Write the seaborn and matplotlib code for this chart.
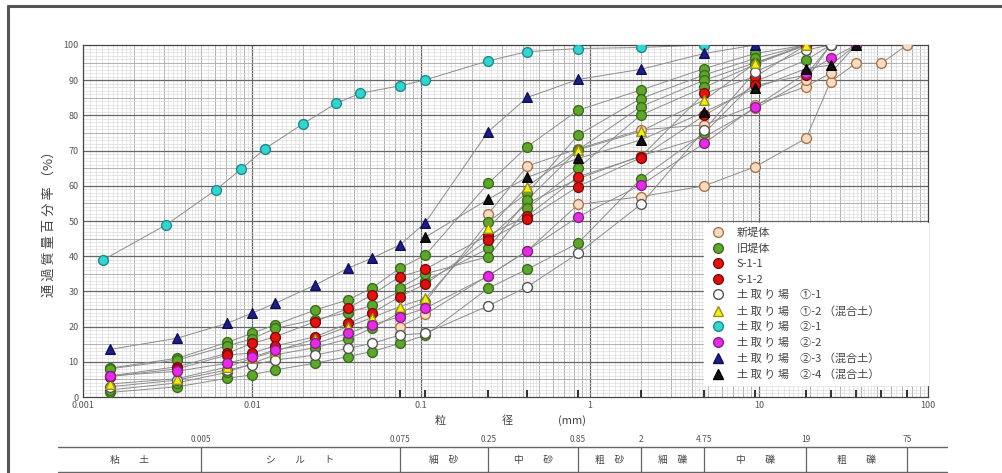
import numpy as np
import pandas as pd
import matplotlib
matplotlib.use("Agg")
import matplotlib.pyplot as plt
import seaborn as sns
from matplotlib.lines import Line2D
from matplotlib.ticker import FixedLocator, NullFormatter, FixedFormatter

# ---------------- data ----------------
# particle diameters (mm)
hydro_d = [0.00144, 0.0036, 0.0071, 0.010, 0.0137, 0.0236, 0.037, 0.051]
hydro_d_fine = [0.00131, 0.0031, 0.0061, 0.0086, 0.0119, 0.0200, 0.0314, 0.0437]
sieve_d = [0.075, 0.106, 0.25, 0.425, 0.85, 2, 4.75, 9.5, 19, 26.5, 37.5, 53, 75]
N = None

# 新堤体
shin_1_hyd = []
shin_1_sv = [20.0, 23.5, 34.5, 41.5, 54.7, 56.9, 60.0, 65.4, 73.5, 89.6, 94.8, 94.8, 100]
shin_2_hyd = []
shin_2_sv = [N, N, 52.0, 65.6, 70.5, 75.9, 77.3, 83.0, 88.2, 92.0, 100]
shin_3_hyd = []
shin_3_sv = [N, N, 45.0, 55.0, 62.0, 68.5, 73.9, 82.0, 90.1, 100]
# 旧堤体
kyu_1_hyd = [8.2, 11.0, 15.5, 18.1, 20.5, 24.7, 27.6, 30.9]
kyu_1_sv = [36.6, 40.3, 60.7, 71.1, 81.5, 87.2, 93.3, 97.6, 100]
kyu_2_hyd = [1.3, 2.9, 5.3, 6.3, 7.7, 9.6, 11.5, 12.9]
kyu_2_sv = [15.2, 17.5, 30.9, 36.3, 43.7, 62.0, 75.0, 89.6, 95.7, 100]
kyu_3_hyd = [2.0, 4.0, 7.0, 9.5, 12.0, 14.0, 16.5, 19.5]
kyu_3_sv = [24.0, 27.0, 49.8, 57.9, 74.4, 84.8, 91.5, 96.2, 100]
kyu_4_hyd = [8.0, 10.5, 14.5, 16.5, 19.5, 22.0, 24.0, 26.0]
kyu_4_sv = [30.0, 33.0, 42.2, 56.0, 70.2, 82.5, 90.0, 95.0, 100]
kyu_5_hyd = []
kyu_5_sv = [31.0, 35.0, 39.9, 53.6, 65.0, 80.1, 88.0, 94.5, 100]
# S-1-1, S-1-2
s11_hyd = [6.0, 8.6, 12.4, 15.2, 17.1, 21.4, 25.2, 29.0]
s11_sv = [34.2, 36.3, 46.0, 51.4, 62.6, 68.3, 86.3, 91.0, 100]
s12_hyd = [5.8, 8.0, 11.9, 12.5, 14.5, 17.1, 20.9, 23.8]
s12_sv = [28.5, 32.1, 44.6, 50.5, 59.8, 68.0, 80.0, 88.5, 91.5, 100]
# 土取り場
to11_hyd = [2.9, 4.8, 7.7, 9.1, 10.5, 11.9, 13.8, 15.2]
to11_sv = [17.6, 18.1, 25.9, 31.3, 40.8, 54.7, 75.9, 92.4, 98.6, 100]
to12_hyd = [3.7, 5.2, 8.5, 11.0, 13.0, 16.5, 20.0, 22.5]
to12_sv = [25.7, 28.0, 47.9, 59.8, 70.2, 75.5, 84.4, 94.8, 100]
to21_hyd = [38.9, 48.9, 58.8, 64.7, 70.5, 77.6, 83.4, 86.3]
to21_sv = [88.4, 90.1, 95.5, 98.1, 99.0, 99.3, 100]
to22_hyd = [6.0, 7.3, 9.6, 11.3, 13.4, 15.2, 18.1, 20.5]
to22_sv = [22.8, 25.2, 34.4, 41.6, 51.2, 60.2, 72.1, 82.5, 92.0, 96.2, 100]
to23_hyd = [13.5, 16.7, 20.9, 23.8, 26.6, 31.8, 36.6, 39.4]
to23_sv = [43.2, 49.5, 75.4, 85.1, 90.2, 93.1, 97.6, 100]
to24_hyd = []
to24_sv = [N, 45.4, 56.2, 62.4, 67.8, 73.0, 81.0, 87.7, 93.3, 94.3, 100]

categories = ["新堤体", "旧堤体", "S-1-1", "S-1-2", "土 取 り 場　①-1", "土 取 り 場　①-2 （混合土）",
              "土 取 り 場　②-1", "土 取 り 場　②-2", "土 取 り 場　②-3 （混合土）", "土 取 り 場　②-4 （混合土）"]

series = [
    ("新堤体-1", categories[0], hydro_d, shin_1_hyd, shin_1_sv),
    ("新堤体-2", categories[0], hydro_d, shin_2_hyd, shin_2_sv),
    ("新堤体-3", categories[0], hydro_d, shin_3_hyd, shin_3_sv),
    ("旧堤体-1", categories[1], hydro_d, kyu_1_hyd, kyu_1_sv),
    ("旧堤体-2", categories[1], hydro_d, kyu_2_hyd, kyu_2_sv),
    ("旧堤体-3", categories[1], hydro_d, kyu_3_hyd, kyu_3_sv),
    ("旧堤体-4", categories[1], hydro_d, kyu_4_hyd, kyu_4_sv),
    ("旧堤体-5", categories[1], hydro_d, kyu_5_hyd, kyu_5_sv),
    ("S-1-1", categories[2], hydro_d, s11_hyd, s11_sv),
    ("S-1-2", categories[3], hydro_d, s12_hyd, s12_sv),
    ("①-1", categories[4], hydro_d, to11_hyd, to11_sv),
    ("①-2", categories[5], hydro_d, to12_hyd, to12_sv),
    ("②-1", categories[6], hydro_d_fine, to21_hyd, to21_sv),
    ("②-2", categories[7], hydro_d, to22_hyd, to22_sv),
    ("②-3", categories[8], hydro_d, to23_hyd, to23_sv),
    ("②-4", categories[9], hydro_d, to24_hyd, to24_sv),
]

rows = []
for name, cat, hd, hv, sv in series:
    for d, v in list(zip(hd, hv)) + list(zip(sieve_d, sv)):
        if v is not None:
            rows.append({"sample": name, "cat": cat, "d": d, "pct": v})
df = pd.DataFrame(rows)

styles = {
    categories[0]: dict(marker="o", fc="#f7dcc3", ec="#a8754e"),
    categories[1]: dict(marker="o", fc="#5ea62e", ec="#3d6b1c"),
    categories[2]: dict(marker="o", fc="#e3140f", ec="#7a0c0c"),
    categories[3]: dict(marker="o", fc="#d81010", ec="#7a0c0c"),
    categories[4]: dict(marker="o", fc="#ffffff", ec="#555555"),
    categories[5]: dict(marker="^", fc="#f2ee1a", ec="#9a8f1a"),
    categories[6]: dict(marker="o", fc="#35d4d0", ec="#1c8c8a"),
    categories[7]: dict(marker="o", fc="#e22ee0", ec="#8a1f8a"),
    categories[8]: dict(marker="^", fc="#1c1c8a", ec="#101050"),
    categories[9]: dict(marker="^", fc="#111111", ec="#000000"),
}

class_bounds = [0.005, 0.075, 0.25, 0.85, 2, 4.75, 19, 75]
class_bound_labels = ["0.005", "0.075", "0.25", "0.85", "2", "4.75", "19", "75"]
class_names = ["粘　　土", "シ　　ル　　ト", "細　砂", "中　　砂", "粗　砂", "細　礫", "中　　礫", "粗　　礫", ""]

# ---------------- figure ----------------
sns.set_theme(style="white")
plt.rcParams["font.family"] = ["Noto Sans CJK JP", "DejaVu Sans"]
plt.rcParams["axes.unicode_minus"] = False

W, H = 1002, 473
fig = plt.figure(figsize=(W / 100, H / 100), dpi=100)
fig.patch.set_facecolor("white")
ax = fig.add_axes([83 / W, 76 / H, 845 / W, 352 / H])
ax.set_xscale("log")
ax.set_xlim(0.001, 100)
ax.set_ylim(0, 100)

# graph-paper grid
xt = ax.get_xaxis_transform()
yt = ax.get_yaxis_transform()
fine_x, int_x = [], []
for e in range(-3, 2):
    base = 10.0 ** e
    for k in np.arange(1.1, 2.0, 0.1):
        fine_x.append(k * base)
    for k in np.arange(2.2, 5.0, 0.2):
        fine_x.append(k * base)
    for k in np.arange(5.5, 10.0, 0.5):
        fine_x.append(k * base)
    for k in range(2, 10):
        int_x.append(k * base)
ax.vlines(fine_x, 0, 1, transform=xt, color="#d9d9d9", lw=0.45, zorder=0)
ax.vlines(int_x, 0, 1, transform=xt, color="#a8a8a8", lw=0.6, zorder=0)
ax.vlines([0.01, 0.1, 1, 10], 0, 1, transform=xt, color="#666666", lw=0.9, zorder=0)
ax.hlines(np.arange(1, 100, 1), 0, 1, transform=yt, color="#d9d9d9", lw=0.45, zorder=0)
ax.hlines(np.arange(5, 100, 10), 0, 1, transform=yt, color="#a8a8a8", lw=0.6, zorder=0)
ax.hlines(np.arange(10, 100, 10), 0, 1, transform=yt, color="#666666", lw=0.9, zorder=0)

for sp in ax.spines.values():
    sp.set_color("#444444")
    sp.set_linewidth(0.9)

ax.xaxis.set_major_locator(FixedLocator([0.001, 0.01, 0.1, 1, 10, 100]))
ax.xaxis.set_major_formatter(FixedFormatter(["0.001", "0.01", "0.1", "1", "10", "100"]))
ax.xaxis.set_minor_formatter(NullFormatter())
ax.xaxis.set_minor_locator(FixedLocator([]))
ax.yaxis.set_major_locator(FixedLocator(np.arange(0, 101, 10)))
ax.tick_params(axis="both", length=0, labelsize=6.5, labelcolor="#555555", pad=3)

# sieve tick marks
ax.vlines(sieve_d, 0, 2, color="#111111", lw=1.2, zorder=2)

# connecting lines
sns.lineplot(data=df, x="d", y="pct", units="sample", estimator=None,
             color="#8c8c8c", lw=0.7, ax=ax, legend=False, zorder=2)

# markers
for cat in categories:
    st = styles[cat]
    sub = df[df["cat"] == cat]
    sns.scatterplot(data=sub, x="d", y="pct", marker=st["marker"], color=st["fc"],
                    edgecolor=st["ec"], linewidth=1.0, s=50 if st["marker"] == "o" else 48,
                    ax=ax, legend=False, zorder=3)
ax.set_xlabel("")
ax.set_ylabel("")

# legend
handles = [Line2D([], [], ls="none", marker=styles[c]["marker"], markerfacecolor=styles[c]["fc"],
                  markeredgecolor=styles[c]["ec"], markersize=7, markeredgewidth=1.0)
           for c in categories]
leg = ax.legend(handles, categories, loc="lower left", bbox_to_anchor=(0.735, 0.034, 0.265, 0.49),
                mode="expand", frameon=True, fontsize=8, labelspacing=0.5, handletextpad=0.9,
                borderpad=0.45, borderaxespad=0, handlelength=1.6)
leg.get_frame().set_facecolor("white")
leg.get_frame().set_edgecolor("white")
leg.get_frame().set_alpha(1)
leg.get_frame().set_boxstyle("square", pad=0)
for t in leg.get_texts():
    t.set_color("#444444")

# axis labels
ax.text(-0.04, 0.50, "通 過 質 量 百 分 率 （%）", transform=ax.transAxes, rotation=90,
        ha="center", va="center", fontsize=9.5, color="#444444")
for d_lab, txt in [(0.1295, "粒"), (0.323, "径"), (0.782, "(mm)")]:
    ax.text(d_lab, -0.068, txt, transform=xt, ha="center", va="center", fontsize=8, color="#444444")

# classification table
tl = 10 ** (-3 - 25 / 169)
tr = 10 ** (2 + 19 / 169)
axt = fig.add_axes([58 / W, 1 / H, 889 / W, 25 / H])
axt.set_xscale("log")
axt.set_xlim(tl, tr)
axt.set_ylim(0, 1)
axt.axis("off")
axt.plot([tl, tr], [1, 1], color="#666666", lw=1.0, clip_on=False)
axt.plot([tl, tr], [0, 0], color="#666666", lw=1.0, clip_on=False)
axt.vlines(class_bounds, 0, 1, color="#666666", lw=0.9)
for b, lab in zip(class_bounds, class_bound_labels):
    axt.text(b, 1.32, lab, ha="center", va="center", fontsize=6, color="#555555", clip_on=False)
edges = [tl] + class_bounds + [tr]
for i, name in enumerate(class_names):
    if name:
        xc = np.sqrt(edges[i] * edges[i + 1])
        axt.text(xc, 0.5, name, ha="center", va="center", fontsize=7, color="#444444")

# outer frame
fig.add_artist(Line2D([8 / W, 8 / W], [0, 1 - 6 / H], transform=fig.transFigure, color="#555555", lw=2.2))
fig.add_artist(Line2D([8 / W, 1], [1 - 6 / H, 1 - 6 / H], transform=fig.transFigure, color="#555555", lw=2.2))

fig.savefig("out.png", dpi=100, facecolor="white")
